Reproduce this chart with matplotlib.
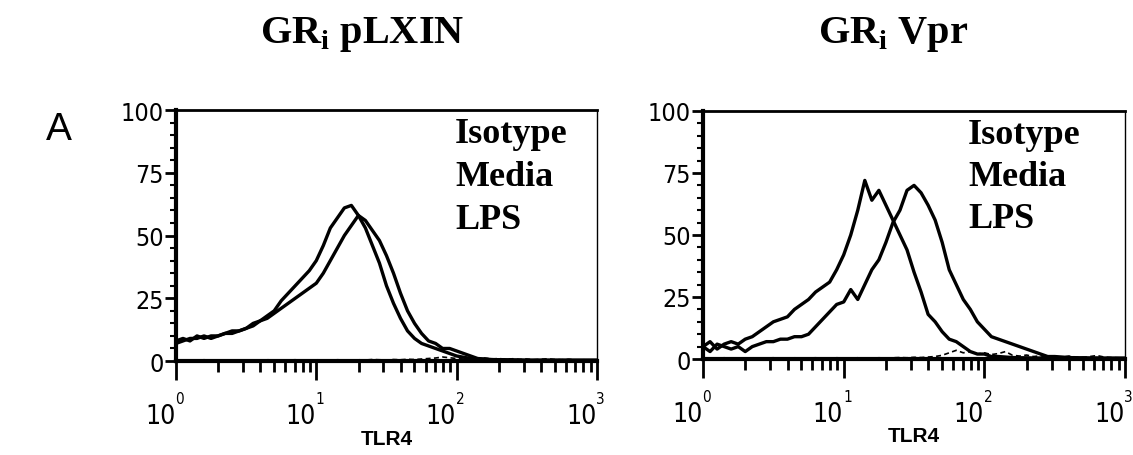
import numpy as np
import matplotlib
matplotlib.use("Agg")
import matplotlib.pyplot as plt
from matplotlib.ticker import FixedLocator, NullFormatter

# log10(TLR4) positions shared by every curve
log_tlr4 = [0.00, 0.05, 0.10, 0.15, 0.20, 0.25, 0.30, 0.35, 0.40, 0.45,
            0.50, 0.55, 0.60, 0.65, 0.70, 0.75, 0.80, 0.85, 0.90, 0.95,
            1.00, 1.05, 1.10, 1.15, 1.20, 1.25, 1.30, 1.35, 1.40, 1.45,
            1.50, 1.55, 1.60, 1.65, 1.70, 1.75, 1.80, 1.85, 1.90, 1.95,
            2.00, 2.05, 2.10, 2.15, 2.20, 2.25, 2.30, 2.35, 2.40, 2.45,
            2.50, 2.55, 2.60, 2.65, 2.70, 2.75, 2.80, 2.85, 2.90, 2.95, 3.00]

# GRi pLXIN
plxin_isotype = [0.5, 0.3, 0.4, 0.3, 0.5, 0.3, 0.4, 0.3, 0.5, 0.4,
                 0.3, 0.4, 0.3, 0.5, 0.4, 0.3, 0.4, 0.5, 0.3, 0.4,
                 0.5, 0.4, 0.3, 0.5, 0.4, 0.3, 0.5, 0.4, 0.6, 0.5,
                 0.4, 0.6, 0.5, 0.7, 0.6, 0.8, 1.0, 1.2, 1.6, 1.3,
                 1.0, 0.8, 1.1, 0.9, 1.2, 0.8, 1.0, 0.7, 0.9, 0.6,
                 0.8, 0.5, 0.7, 0.9, 0.6, 0.5, 0.7, 0.4, 0.5, 0.4, 0.3]
plxin_media = [8, 9, 8, 10, 9, 10, 10, 11, 11, 12,
               13, 15, 16, 18, 20, 24, 27, 30, 33, 36,
               40, 46, 53, 57, 61, 62, 58, 53, 46, 39,
               30, 23, 17, 12, 9, 7, 6, 5, 4, 3,
               2, 1.5, 1, 0.8, 0.6, 0.5, 0.5, 0.4, 0.4, 0.3,
               0.3, 0.3, 0.3, 0.3, 0.3, 0.3, 0.3, 0.3, 0.3, 0.3, 0.3]
plxin_lps = [7, 8, 9, 9, 10, 9, 10, 11, 12, 12,
             13, 14, 16, 17, 19, 21, 23, 25, 27, 29,
             31, 35, 40, 45, 50, 54, 58, 56, 52, 48,
             42, 35, 27, 20, 15, 11, 8, 7, 5, 5,
             4, 3, 2, 1, 0.8, 0.6, 0.5, 0.5, 0.4, 0.4,
             0.3, 0.3, 0.3, 0.3, 0.3, 0.3, 0.3, 0.3, 0.3, 0.3, 0.3]

# GRi Vpr
vpr_isotype = [0.5, 0.4, 0.3, 0.5, 0.4, 0.3, 0.4, 0.5, 0.3, 0.4,
               0.5, 0.3, 0.4, 0.5, 0.3, 0.4, 0.5, 0.4, 0.3, 0.5,
               0.4, 0.3, 0.5, 0.4, 0.3, 0.5, 0.4, 0.5, 0.6, 0.5,
               0.7, 0.6, 0.8, 1.0, 1.5, 2.5, 3.5, 2.5, 3.0, 2.0,
               2.5, 1.8, 2.2, 3.0, 1.5, 1.2, 1.6, 1.0, 1.3, 0.8,
               1.0, 0.7, 1.2, 0.8, 0.6, 1.0, 1.4, 0.8, 0.6, 0.5, 0.4]
vpr_media = [5, 7, 4, 6, 7, 6, 8, 9, 11, 13,
             15, 16, 17, 20, 22, 24, 27, 29, 31, 36,
             42, 50, 60, 72, 64, 68, 62, 56, 50, 44,
             35, 27, 18, 15, 11, 8, 7, 5, 3, 2,
             2, 1, 1, 0.8, 0.6, 0.5, 0.5, 0.4, 0.4, 0.3,
             0.3, 0.3, 0.3, 0.3, 0.3, 0.3, 0.3, 0.3, 0.3, 0.3, 0.3]
vpr_lps = [5, 3, 6, 5, 4, 5, 3, 5, 6, 7,
           7, 8, 8, 9, 9, 10, 13, 16, 19, 22,
           23, 28, 24, 30, 36, 40, 47, 55, 60, 68,
           70, 67, 62, 56, 47, 36, 30, 24, 20, 15,
           12, 9, 8, 7, 6, 5, 4, 3, 2, 1,
           1, 0.8, 0.6, 0.5, 0.5, 0.4, 0.4, 0.3, 0.3, 0.3, 0.3]

titles = ["pLXIN", "Vpr"]
legend_labels = ["Isotype", "Media", "LPS"]
y_ticks = [0, 25, 50, 75, 100]
decades = [0, 1, 2, 3]

fig = plt.figure(figsize=(11.33, 4.56), dpi=100)
ax1 = fig.add_axes([0.1553, 0.2061, 0.3716, 0.5504])
ax2 = fig.add_axes([0.6205, 0.2105, 0.3725, 0.5440])

x = 10 ** np.array(log_tlr4)
panels = [(ax1, plxin_isotype, plxin_media, plxin_lps, 0.663),
          (ax2, vpr_isotype, vpr_media, vpr_lps, 0.628)]

for ax, iso, med, lps, leg_x in panels:
    ax.plot(x, iso, color="black", lw=1.2, ls=(0, (3, 2)))
    ax.plot(x, med, color="black", lw=2.4)
    ax.plot(x, lps, color="black", lw=2.4)
    ax.set_xscale("log")
    ax.set_xlim(1, 1000)
    ax.set_ylim(0, 100)

    ax.yaxis.set_major_locator(FixedLocator(y_ticks))
    ax.yaxis.set_minor_locator(FixedLocator(np.arange(0, 101, 5)))
    ax.tick_params(axis="y", which="major", length=8, width=2, labelsize=18, pad=1)
    ax.tick_params(axis="y", which="minor", length=4, width=1.5)
    ax.tick_params(axis="x", which="major", length=14, width=2)
    ax.tick_params(axis="x", which="minor", length=8, width=2)
    ax.xaxis.set_major_formatter(NullFormatter())
    ax.xaxis.set_minor_formatter(NullFormatter())
    for lab in ax.get_yticklabels():
        lab.set_family("DejaVu Sans")
        lab.set_stretch("condensed")

    # decade labels: "10" left of the tick, exponent raised right at the tick
    for d in decades:
        ax.text(10 ** d / 1.01, -0.22, "10", transform=ax.get_xaxis_transform(), fontsize=19,
                family="DejaVu Sans", stretch="condensed", ha="right", va="center")
        ax.text(10 ** d / 1.012, -0.15, str(d), transform=ax.get_xaxis_transform(), fontsize=11,
                family="DejaVu Sans", stretch="condensed", ha="left", va="center")

    ax.spines["left"].set_linewidth(3)
    ax.spines["bottom"].set_linewidth(3)
    ax.spines["top"].set_linewidth(2)
    ax.spines["right"].set_linewidth(1)

    ax.text(0.5, -0.31, "TLR4", transform=ax.transAxes, fontsize=15, fontweight="bold",
            family="Liberation Sans", ha="center", va="center")

    for i, t in enumerate(legend_labels):
        ax.text(leg_x, 0.905 - i * 0.17, t, transform=ax.transAxes, fontsize=26,
                fontweight="bold", family="Liberation Serif", va="center", ha="left")

fig.text(0.320, 0.925, r"GR$_\mathregular{i}$ " + titles[0], fontsize=29, fontweight="bold",
         family="Liberation Serif", ha="center", va="center")
fig.text(0.788, 0.925, r"GR$_\mathregular{i}$ " + titles[1], fontsize=29, fontweight="bold",
         family="Liberation Serif", ha="center", va="center")
fig.text(0.052, 0.715, "A", fontsize=28, family="Liberation Sans", ha="center", va="center")

fig.savefig("out.png", dpi=100)
